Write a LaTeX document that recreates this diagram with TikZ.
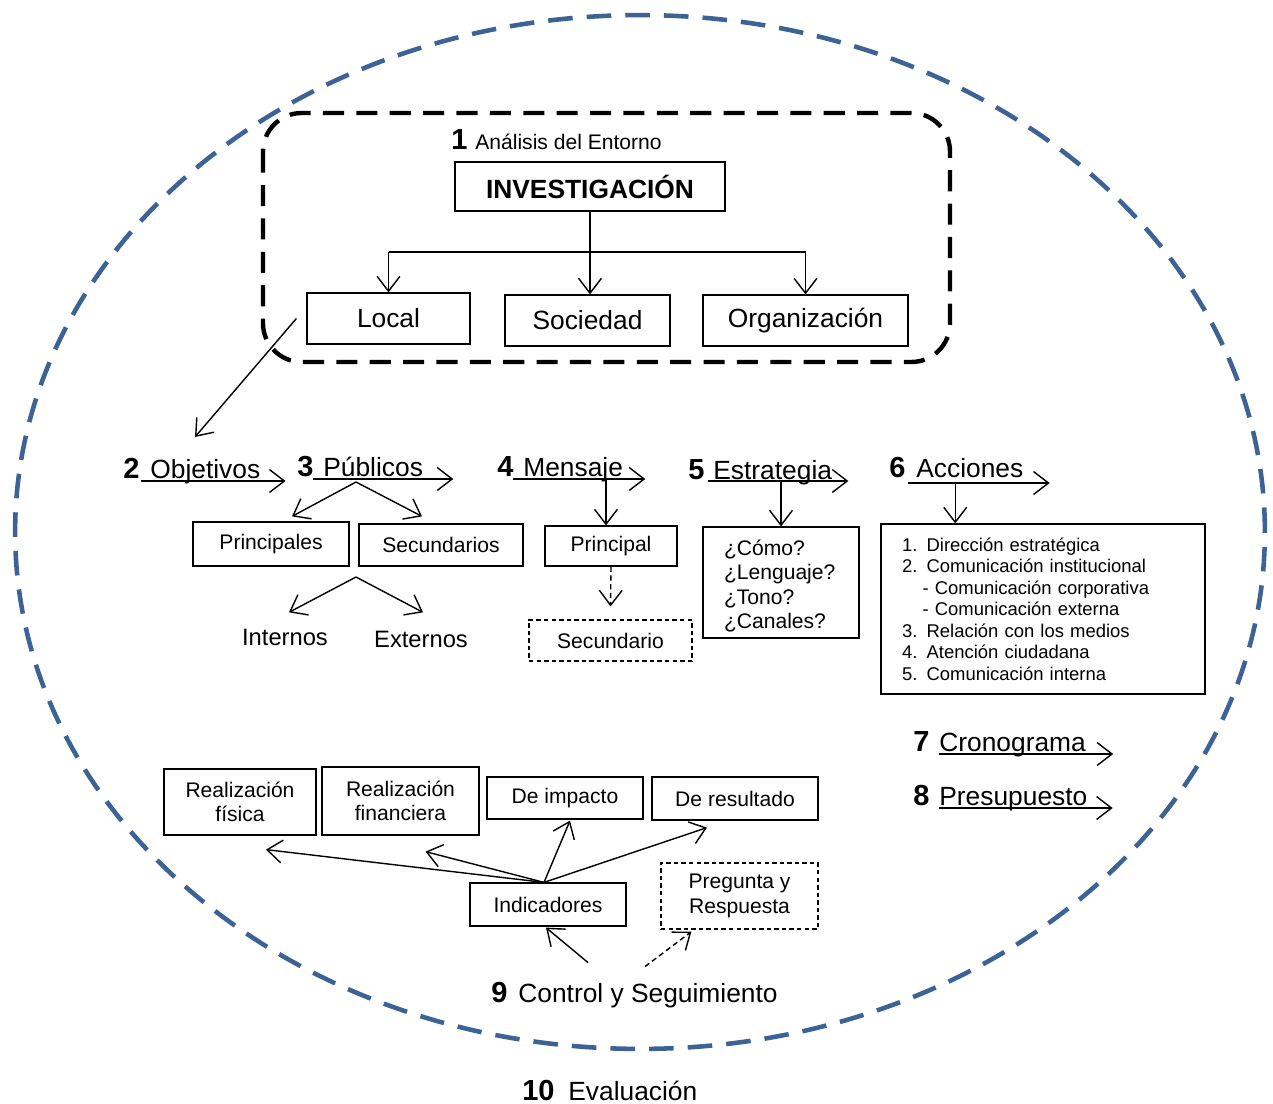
\documentclass[tikz,border=0pt]{standalone}
\usepackage{fontspec}
\setmainfont{Liberation Sans}
\usetikzlibrary{arrows.meta,calc}
\definecolor{ellblue}{HTML}{3D6396}

\begin{document}
\begin{tikzpicture}[x=0.02cm,y=-0.02cm,
  lbl/.style={font=\fontsize{15}{18}\selectfont,inner sep=0},
  num/.style={font=\fontsize{16.5}{18}\selectfont\bfseries,inner sep=0},
  mid/.style={font=\fontsize{13.5}{16}\selectfont,inner sep=0},
  sm/.style={font=\fontsize{12}{13.9}\selectfont},
  xs/.style={font=\fontsize{10.5}{12.2}\selectfont},
  box/.style={draw,line width=0.7pt,inner sep=0,align=center},
  dbox/.style={box,dash pattern=on 2.5pt off 1.8pt},
  ln/.style={line width=0.8pt},
  arr/.style={ln,-{Straight Barb[length=8.5pt,width=13pt]}},
  dsh/.style={dash pattern=on 3pt off 2pt},
  ellout/.style={draw=ellblue,line width=2.6pt,dash pattern=on 14pt off 8pt},
  envframe/.style={line width=2.5pt,dash pattern=on 12pt off 7pt,rounded corners=22pt}]
  \useasboundingbox (0,0) rectangle (1273,1104);
  \draw[ellout] (640,532) ellipse [x radius=12.5cm,y radius=10.34cm];
  \draw[envframe] (263,113) rectangle (950,362);

  \node[num,anchor=base west] (n1) at (451,150) {1};
  \node[sm,inner sep=0,anchor=base west] (ent) at (475,150) {Análisis del Entorno};
  \node[box,minimum width=5.4cm,minimum height=0.98cm,font=\fontsize{15}{18}\selectfont\bfseries] (inv) at (590,186.5) {INVESTIGACIÓN};
  \node[box,lbl,minimum width=3.26cm,minimum height=1.02cm] (loc) at (388.5,318.5) {Local};
  \node[box,lbl,minimum width=3.3cm,minimum height=1.02cm] (soc) at (587.5,320.5) {Sociedad};
  \node[box,lbl,minimum width=4.1cm,minimum height=1.02cm] (org) at (805.5,320.5) {Organización};
  \coordinate (bus) at (0,252);
  \draw[arr] (inv.south) -- (inv.south |- soc.north);
  \draw[ln] (loc.north |- bus) -- (org.north |- bus);
  \draw[arr] (loc.north |- bus) -- (loc.north);
  \draw[arr] (org.north |- bus) -- (org.north);
  \coordinate (toobj) at (195,437);
  \draw[arr] ($(loc.west)+(-10,0)$) -- (toobj);

  \node[num,anchor=base west] (n2) at (123,478) {2};
  \node[lbl,anchor=base west] (obj) at (150,478) {Objetivos};
  \draw[arr] ($(obj.base west)+(-9,3)$) -- ($(obj.base east)+(25,3)$);

  \node[num,anchor=base west] (n3) at (297,476) {3};
  \node[lbl,anchor=base west] (pub) at (323,476) {Públicos};
  \draw[arr] ($(pub.base west)+(-10,3)$) -- ($(pub.base east)+(30,3)$);
  \node[box,sm,minimum width=3.12cm,minimum height=0.88cm] (princ) at (271,544) {Principales};
  \node[box,sm,minimum width=3.28cm,minimum height=0.84cm] (secs) at (441,545) {Secundarios};
  \coordinate (ps) at (356,482);
  \draw[arr] (ps) -- ($(princ.north)+(21,-5)$);
  \draw[arr] (ps) -- ($(secs.north)+(-19,-7)$);
  \node[mid,anchor=base] (int) at (285,645) {Internos};
  \node[mid,anchor=base] (ext) at (421,647) {Externos};
  \coordinate (ss) at (356,577);
  \draw[arr] (ss) -- ($(int.north)+(4,-16)$);
  \draw[arr] (ss) -- ($(ext.north)+(2,-18)$);

  \node[num,anchor=base west] (n4) at (497,476) {4};
  \node[lbl,anchor=base west] (men) at (523,476) {Mensaje};
  \coordinate (menl) at ($(men.base west)+(-10,3)$);
  \draw[arr] (menl) -- ($(men.base east)+(22,3)$);
  \node[box,sm,minimum width=2.64cm,minimum height=0.8cm] (pral) at (611,546) {Principal};
  \node[dbox,sm,minimum width=3.26cm,minimum height=0.82cm] (secd) at (610.5,640.5) {Secundario};
  \coordinate (pralin) at ($(pral.north)+(-5,0)$);
  \draw[arr] (menl -| pralin) -- (pralin);
  \draw[arr,dsh] (pral.south) -- ($(secd.north)+(0,-13)$);

  \node[num,anchor=base west] (n5) at (688,479) {5};
  \node[lbl,anchor=base west] (est) at (713,479) {Estrategia};
  \coordinate (estl) at ($(est.base west)+(-5,2)$);
  \draw[arr] (estl) -- ($(est.base east)+(16,2)$);
  \node[box,sm,minimum width=3.12cm,minimum height=2.22cm,text width=2.28cm,align=left] (estr) at (781,582.5)
    {\rule{0pt}{13pt}¿Cómo?\\¿Lenguaje?\\¿Tono?\\¿Canales?};
  \draw[arr] (estl -| estr.north) -- (estr.north);

  \node[num,anchor=base west] (n6) at (889,477) {6};
  \node[lbl,anchor=base west] (acci) at (916,477) {Acciones};
  \coordinate (accl) at ($(acci.base west)+(-8,6)$);
  \draw[arr] (accl) -- ($(acci.base east)+(26,6)$);
  \node[box,xs,minimum width=6.48cm,minimum height=3.4cm,text width=5.64cm,align=left] (acc) at (1043,609)
    {1. Dirección estratégica\\2. Comunicación institucional\\\hspace*{1.11em}- Comunicación corporativa\\\hspace*{1.11em}- Comunicación externa\\3. Relación con los medios\\4. Atención ciudadana\\5. Comunicación interna};
  \coordinate (accin) at ($(acc.north west)!0.23!(acc.north east)$);
  \draw[arr] (accl -| accin) -- (accin);

  \node[num,anchor=base west] (n7) at (913,751) {7};
  \node[lbl,anchor=base west] (cro) at (939,751) {Cronograma};
  \draw[arr] ($(cro.base west)+(0,3)$) -- ($(cro.base east)+(27,3)$);
  \node[num,anchor=base west] (n8) at (913,805) {8};
  \node[lbl,anchor=base west] (pre) at (939,805) {Presupuesto};
  \draw[arr] ($(pre.base west)+(0,3)$) -- ($(pre.base east)+(25,3)$);

  \node[box,sm,minimum width=3.04cm,minimum height=1.32cm] (rfis) at (240,802) {Realización\\física};
  \node[box,sm,minimum width=3.14cm,minimum height=1.36cm] (rfin) at (400.5,801) {Realización\\financiera};
  \node[box,sm,minimum width=3.12cm,minimum height=0.84cm] (imp) at (565,798) {De impacto};
  \node[box,sm,minimum width=3.32cm,minimum height=0.86cm] (res) at (735,798.5) {De resultado};
  \node[box,sm,minimum width=3.12cm,minimum height=0.86cm] (ind) at (548,904.5) {Indicadores};
  \node[dbox,sm,minimum width=3.14cm,minimum height=1.32cm] (preg) at (739.5,896) {Pregunta y\\Respuesta};
  \coordinate (indout) at ($(ind.north)+(-4,0)$);
  \draw[arr] (indout) -- ($(rfis.south)+(26,14)$);
  \draw[arr] (indout) -- ($(rfin.south)+(25,16)$);
  \draw[arr] (indout) -- ($(imp.south)+(5,1)$);
  \draw[arr] (indout) -- ($(res.south)+(-28,7)$);

  \node[num,anchor=base west] (n9) at (491,1002) {9};
  \node[lbl,anchor=base west] (ctl) at (518,1002) {Control y Seguimiento};
  \draw[arr] ($(ctl.north)+(-60,-20)$) -- ($(ind.south)+(-2,1)$);
  \draw[arr,dsh] ($(ctl.north)+(-3,-16)$) -- ($(preg.south west)+(31,2)$);

  \node[num,anchor=base west] (n10) at (522,1100) {10};
  \node[lbl,anchor=base west] (eva) at (568,1100) {Evaluación};
\end{tikzpicture}
\end{document}
